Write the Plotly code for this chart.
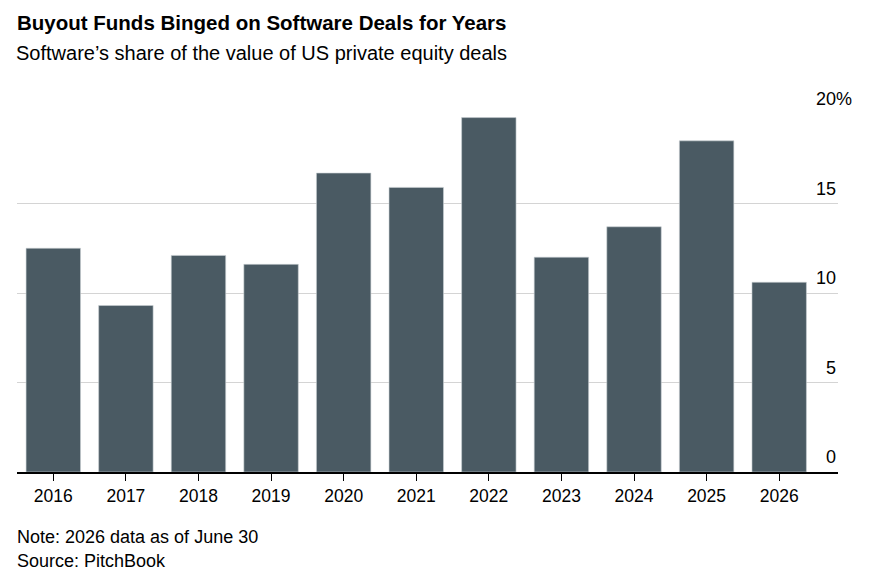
import plotly.graph_objects as go

# Software share of US PE deal value, %
years = ["2016", "2017", "2018", "2019", "2020", "2021",
         "2022", "2023", "2024", "2025", "2026"]
share = [12.5, 9.3, 12.1, 11.6, 16.7, 15.9, 19.8, 12.0, 13.7, 18.5, 10.6]

y_ticks = [0, 5, 10, 15, 20]
y_tick_text = ["0", "5", "10", "15", "20%"]

FONT = "Liberation Sans"
BAR_COLOR = "#4a5a63"

fig = go.Figure()
fig.add_trace(go.Bar(
    x=years,
    y=share,
    marker=dict(color=BAR_COLOR, line=dict(color="#c9d0d4", width=0.6)),
    hovertemplate="%{x}: %{y:.1f}%<extra></extra>",
))

annotations = []
for v, t in zip(y_ticks, y_tick_text):
    annotations.append(dict(
        x=1, xref="paper", y=v, yref="y",
        text=t, showarrow=False,
        xanchor="right", yanchor="middle",
        xshift=16 if t.endswith("%") else 0, yshift=15,
        font=dict(family=FONT, size=18, color="#000000"),
    ))

annotations += [
    dict(x=0, xref="paper", y=1, yref="paper", text="<b>Buyout Funds Binged on Software Deals for Years</b>",
         showarrow=False, xanchor="left", yanchor="middle", yshift=92, xshift=-2,
         font=dict(family=FONT, size=20.5, color="#000000")),
    dict(x=0, xref="paper", y=1, yref="paper", text="Software’s share of the value of US private equity deals",
         showarrow=False, xanchor="left", yanchor="middle", yshift=61, xshift=-3,
         font=dict(family=FONT, size=20, color="#000000")),
    dict(x=0, xref="paper", y=0, yref="paper", text="Note: 2026 data as of June 30",
         showarrow=False, xanchor="left", yanchor="middle", yshift=-65, xshift=-2,
         font=dict(family=FONT, size=18, color="#000000")),
    dict(x=0, xref="paper", y=0, yref="paper", text="Source: PitchBook",
         showarrow=False, xanchor="left", yanchor="middle", yshift=-89, xshift=-2,
         font=dict(family=FONT, size=18, color="#000000")),
]

fig.update_layout(
    width=876,
    height=574,
    # page adds an 8px body margin, so everything is pulled up/left by 8
    margin=dict(l=9, r=46, t=106, b=110),
    paper_bgcolor="white",
    plot_bgcolor="white",
    bargap=0.25,
    showlegend=False,
    annotations=annotations,
    xaxis=dict(
        type="category",
        range=[-0.5, 10.81],
        showline=True, linecolor="#000000", linewidth=1.5,
        ticks="outside", ticklen=7, tickcolor="#000000", tickwidth=1,
        showgrid=False,
        tickfont=dict(family=FONT, size=17.5, color="#000000"),
    ),
    yaxis=dict(
        range=[0, 20],
        tickvals=y_ticks,
        showticklabels=False,
        showgrid=True, gridcolor="#d4d4d4", gridwidth=1,
        zeroline=False,
        ticks="",
    ),
)

fig.write_html("out.html")
